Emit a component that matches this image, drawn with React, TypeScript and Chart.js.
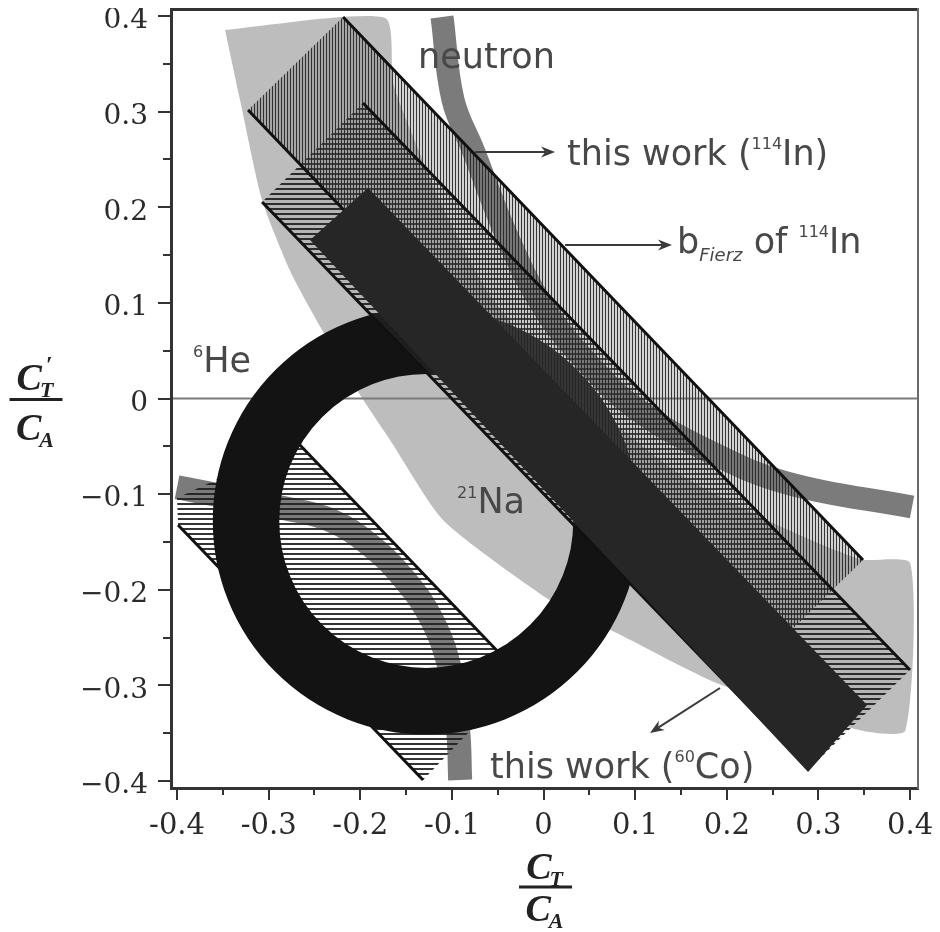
import React, { useEffect, useRef } from 'react';
import { Chart, registerables } from 'chart.js';

Chart.register(...registerables);

// ---------- axes ----------
const xRange = [-0.4066, 0.4087];
const yRange = [-0.4073, 0.4073];
const majorTicks = [-0.4, -0.3, -0.2, -0.1, 0, 0.1, 0.2, 0.3, 0.4];
const minorTicks = [-0.35, -0.25, -0.15, -0.05, 0.05, 0.15, 0.25, 0.35];
const xTickLabels = ['-0.4', '-0.3', '-0.2', '-0.1', '0', '0.1', '0.2', '0.3', '0.4'];
const yTickLabels = ['\u22120.4', '\u22120.3', '\u22120.2', '\u22120.1', '0', '0.1', '0.2', '0.3', '0.4'];

// ---------- regions (C_T/C_A , C'_T/C_A) ----------
// 21Na band: outer-left boundary (top -> right), then inner-right boundary (right -> top)
const na21Lower = [
  [-0.3476, 0.3854], [-0.3312, 0.3121], [-0.3072, 0.2075], [-0.2734, 0.127],
  [-0.2057, 0.0119], [-0.1675, -0.0435], [-0.1096, -0.1272], [0.0072, -0.2109],
  [0.0803, -0.2454], [0.1895, -0.2977], [0.3456, -0.3469], [0.395, -0.3469],
];
const na21Upper = [
  [0.4002, -0.1722], [0.345, -0.168], [0.25, -0.13], [0.15, -0.08], [0.07, -0.02],
  [0.0, 0.04], [-0.06, 0.11], [-0.11, 0.2], [-0.145, 0.28], [-0.1642, 0.3299], [-0.1729, 0.3979],
];
// neutron band centre lines (two branches)
const neutronUpper = [
  [-0.1108, 0.399], [-0.0988, 0.3122], [-0.0769, 0.2599], [-0.04, 0.17], [0.0, 0.095],
  [0.05, 0.035], [0.1, -0.01], [0.18, -0.055], [0.2658, -0.0884], [0.4022, -0.1135],
];
const neutronLower = [
  [-0.4, -0.0927], [-0.2843, -0.1146], [-0.233, -0.127], [-0.1893, -0.1533], [-0.1511, -0.19],
  [-0.1216, -0.2318], [-0.102, -0.284], [-0.0932, -0.3469], [-0.091, -0.399],
];
// 6He ring
const he6Center = [-0.128, -0.128];
const he6Radii = [0.157, 0.228];
// 114In, this work (parallelogram corners)
const in114ThisWork = [[-0.2188, 0.399], [0.3487, -0.1689], [0.245, -0.2661], [-0.3225, 0.3017]];
// b_Fierz of 114In
const in114Fierz = [[-0.197, 0.309], [0.4, -0.2839], [0.2898, -0.3875], [-0.3072, 0.2055]];
// lower-left hatched band
const lowerBand = [[-0.4, -0.104], [-0.269, -0.0455], [-0.0235, -0.291], [-0.1315, -0.399], [-0.3989, -0.1323]];
// 60Co, this work
const co60ThisWork = [[-0.1915, 0.2201], [0.3531, -0.3205], [0.2887, -0.3906], [-0.2548, 0.1658]];
// zero line
const zeroLine = [[-0.4066, 0], [0.4087, 0]];

// ---------- annotations ----------
const arrows = [
  { from: [-0.0748, 0.2578], to: [0.0126, 0.2578] },
  { from: [0.0235, 0.1605], to: [0.1402, 0.1605] },
  { from: [0.1926, -0.3027], to: [0.1162, -0.3498] },
];
type Run = { t: string; size: number; dy?: number; italic?: boolean };
const textLabels: { at: number[]; runs: Run[] }[] = [
  { at: [-0.137, 0.3456], runs: [{ t: 'neutron', size: 35 }] },
  { at: [0.0257, 0.2442], runs: [{ t: 'this work (', size: 35 }, { t: '114', size: 16, dy: -16 }, { t: 'In)', size: 35 }] },
  { at: [0.1457, 0.1522], runs: [{ t: 'b', size: 35 }, { t: 'Fierz', size: 18, dy: 8, italic: true }, { t: ' of ', size: 35 }, { t: '114', size: 16, dy: -16 }, { t: 'In', size: 35 }] },
  { at: [-0.3825, 0.0277], runs: [{ t: '6', size: 16, dy: -15 }, { t: 'He', size: 35 }] },
  { at: [-0.0944, -0.1197], runs: [{ t: '21', size: 16, dy: -15 }, { t: 'Na', size: 35 }] },
  { at: [-0.0584, -0.3969], runs: [{ t: 'this work (', size: 35 }, { t: '60', size: 16, dy: -16 }, { t: 'Co)', size: 35 }] },
];

const P = (a: number[][]) => a.map(([x, y]) => ({ x, y }));
const closed = (a: number[][]) => P([...a, a[0]]);

const SANS = '"DejaVu Sans", sans-serif';
const SERIF = '"Liberation Serif", "DejaVu Serif", serif';

function drawRuns(ctx: CanvasRenderingContext2D, x: number, y: number, runs: Run[]) {
  let cx = x;
  for (const r of runs) {
    ctx.font = `${r.italic ? 'italic ' : ''}${r.size}px ${SANS}`;
    ctx.fillText(r.t, cx, y + (r.dy || 0));
    cx += ctx.measureText(r.t).width;
  }
}

function drawFraction(ctx: CanvasRenderingContext2D, cx: number, barY: number, barW: number, numBase: number, denBase: number, prime: boolean) {
  ctx.fillStyle = '#222';
  ctx.fillRect(cx - barW / 2, barY - 1.5, barW, 3);
  const big = `italic bold 38px ${SERIF}`;
  const small = `italic bold 22px ${SERIF}`;
  const part = (base: number, sub: string, withPrime: boolean) => {
    ctx.font = big;
    const wC = ctx.measureText('C').width;
    ctx.font = small;
    const wS = ctx.measureText(sub).width;
    const x0 = cx - (wC + wS) / 2;
    ctx.font = big;
    ctx.fillText('C', x0, base);
    ctx.font = small;
    ctx.fillText(sub, x0 + wC - 2, base + 7);
    if (withPrime) {
      ctx.font = `bold 24px ${SERIF}`;
      ctx.fillText('\u2032', x0 + wC + 4, base - 18);
    }
  };
  part(numBase, 'T', prime);
  part(denBase, 'A', false);
}

const annotationPlugin = {
  id: 'annotations',
  afterDatasetsDraw(chart: any) {
    const { ctx, scales } = chart;
    const xs = scales.x, ys = scales.y;
    ctx.save();
    ctx.strokeStyle = '#3a3a3a';
    ctx.fillStyle = '#3a3a3a';
    ctx.lineWidth = 2;
    for (const a of arrows) {
      const x1 = xs.getPixelForValue(a.from[0]), y1 = ys.getPixelForValue(a.from[1]);
      const x2 = xs.getPixelForValue(a.to[0]), y2 = ys.getPixelForValue(a.to[1]);
      const ang = Math.atan2(y2 - y1, x2 - x1);
      const head = 14, hw = 5.5;
      const c = Math.cos(ang), s = Math.sin(ang);
      ctx.beginPath();
      ctx.moveTo(x1, y1);
      ctx.lineTo(x2 - head * 0.7 * c, y2 - head * 0.7 * s);
      ctx.stroke();
      ctx.beginPath();
      ctx.moveTo(x2, y2);
      ctx.lineTo(x2 - head * c + hw * s, y2 - head * s - hw * c);
      ctx.lineTo(x2 - head * 0.7 * c, y2 - head * 0.7 * s);
      ctx.lineTo(x2 - head * c - hw * s, y2 - head * s + hw * c);
      ctx.closePath();
      ctx.fill();
    }
    ctx.fillStyle = '#484848';
    ctx.textBaseline = 'alphabetic';
    ctx.textAlign = 'left';
    for (const l of textLabels) {
      drawRuns(ctx, xs.getPixelForValue(l.at[0]), ys.getPixelForValue(l.at[1]), l.runs);
    }
    ctx.restore();
  },
  afterDraw(chart: any) {
    const { ctx, scales, chartArea } = chart;
    ctx.save();
    ctx.textBaseline = 'alphabetic';
    ctx.textAlign = 'left';
    const y0 = scales.y.getPixelForValue(0);
    drawFraction(ctx, 28, y0 + 1, 53, y0 - 9, y0 + 41, true);
    const x0 = scales.x.getPixelForValue(0);
    const by = chartArea.bottom + 99;
    drawFraction(ctx, x0 + 2, by, 53, by - 8, by + 34, false);
    ctx.restore();
  },
};

export default function App() {
  const ref = useRef<HTMLCanvasElement>(null);
  useEffect(() => {
    const canvas = ref.current!;
    const ctx2d = canvas.getContext('2d')!;
    const pattern = (dir: 'v' | 'h', period: number, w: number, color: string, bg?: string) => {
      const c = document.createElement('canvas');
      c.width = period;
      c.height = period;
      const g = c.getContext('2d')!;
      if (bg) { g.fillStyle = bg; g.fillRect(0, 0, period, period); }
      g.fillStyle = color;
      if (dir === 'v') g.fillRect(0, 0, w, period);
      else g.fillRect(0, 0, period, w);
      return ctx2d.createPattern(c, 'repeat')!;
    };
    const hatchA = pattern('v', 3, 1, 'rgba(35,35,35,0.9)', 'rgba(110,110,110,0.3)');
    const hatchB = pattern('h', 5, 2, 'rgba(30,30,30,0.9)', 'rgba(120,120,120,0.12)');
    const hatchC = pattern('h', 5, 2, 'rgba(30,30,30,0.9)');

    const base = { xAxisID: 'x', yAxisID: 'y', pointRadius: 0, pointHoverRadius: 0, clip: 0 };
    const poly = (label: string, verts: number[][], bg: any, order: number, tension = 0) => ({
      ...base, label, data: closed(verts), fill: 'shape', backgroundColor: bg,
      borderColor: 'rgba(0,0,0,0)', borderWidth: 0, tension, order,
    });
    const line = (label: string, pts: number[][], color: string, width: number, order: number, tension = 0) => ({
      ...base, label, data: P(pts), fill: false, borderColor: color, borderWidth: width,
      borderCapStyle: 'butt', tension, order,
    });
    const ringMid = (he6Radii[0] + he6Radii[1]) / 2;
    const ringW = he6Radii[1] - he6Radii[0];
    const pxLen = (c: any, d: number) => {
      const s = c.chart.scales;
      const rx = Math.abs(s.x.getPixelForValue(d) - s.x.getPixelForValue(0));
      const ry = Math.abs(s.y.getPixelForValue(d) - s.y.getPixelForValue(0));
      return (rx + ry) / 2;
    };

    const datasets: any[] = [
      poly('21Na', [...na21Lower, ...na21Upper], '#bdbdbd', 100, 0.2),
      line('zero', zeroLine, '#7a7a7a', 2, 95),
      line('neutron', neutronUpper, '#7b7b7b', 23, 90, 0.4),
      line('neutron (2)', neutronLower, '#7b7b7b', 24, 90, 0.4),
      poly('lower band', lowerBand, hatchC, 80),
      line('lower band edge 1', [lowerBand[1], lowerBand[2]], '#111', 3, 79),
      line('lower band edge 2', [lowerBand[4], lowerBand[3]], '#111', 3, 79),
      {
        ...base, label: '6He', data: P([he6Center]), showLine: false, order: 70,
        pointRadius: (c: any) => pxLen(c, ringMid),
        pointBorderWidth: (c: any) => pxLen(c, ringW),
        pointBackgroundColor: 'rgba(0,0,0,0)', pointBorderColor: '#131313',
        pointHoverRadius: (c: any) => pxLen(c, ringMid),
      },
      poly('b Fierz of 114In', in114Fierz, hatchB, 60),
      poly('this work (114In)', in114ThisWork, hatchA, 59),
      line('A edge 1', [in114ThisWork[0], in114ThisWork[1]], '#111', 3, 50),
      line('A edge 2', [in114ThisWork[3], in114ThisWork[2]], '#111', 3, 50),
      line('B edge 1', [in114Fierz[0], in114Fierz[1]], '#111', 3, 50),
      line('B edge 2', [in114Fierz[3], in114Fierz[2]], '#111', 3, 50),
      poly('this work (60Co)', co60ThisWork, '#262626', 40),
    ];

    const setTicks = (vals: number[]) => (s: any) => { s.ticks = vals.map((v) => ({ value: v })); };
    const tickFont = (size: number) => ({ family: '"DejaVu Serif", serif', size });

    const chart = new Chart(canvas, {
      type: 'line',
      data: { datasets },
      plugins: [annotationPlugin],
      options: {
        animation: false,
        responsive: false,
        maintainAspectRatio: false,
        events: [],
        layout: { padding: { top: 1, right: 14, bottom: 0, left: 0 } },
        plugins: { legend: { display: false }, tooltip: { enabled: false } },
        scales: {
          x: {
            type: 'linear', position: 'bottom', min: xRange[0], max: xRange[1], weight: 1,
            afterBuildTicks: setTicks(majorTicks),
            afterFit: (s: any) => { s.height = 144; s.paddingLeft = 0; s.paddingRight = 0; },
            ticks: {
              callback: (_v: any, i: number) => xTickLabels[i], autoSkip: false, maxRotation: 0,
              font: tickFont(29), color: '#2a2a2a', padding: 9,
            },
            grid: { drawOnChartArea: false, tickLength: 12, tickColor: '#333', lineWidth: 2 },
            border: { display: true, color: '#333', width: 3, z: 1 },
          },
          y: {
            type: 'linear', position: 'left', min: yRange[0], max: yRange[1], weight: 1,
            afterBuildTicks: setTicks(majorTicks),
            afterFit: (s: any) => { s.width = 163; s.paddingTop = 0; s.paddingBottom = 0; },
            ticks: {
              callback: (_v: any, i: number) => yTickLabels[i], autoSkip: false,
              font: tickFont(28), color: '#2a2a2a', padding: 10, labelOffset: 5,
            },
            grid: { drawOnChartArea: false, tickLength: 13, tickColor: '#333', lineWidth: 2 },
            border: { display: true, color: '#333', width: 3, z: 1 },
          },
          xm: {
            type: 'linear', position: 'bottom', min: xRange[0], max: xRange[1], weight: 0,
            afterBuildTicks: setTicks(minorTicks),
            afterFit: (s: any) => { s.height = 0; s.paddingLeft = 0; s.paddingRight = 0; },
            ticks: { display: false },
            grid: { drawOnChartArea: false, tickLength: 7, tickColor: '#333', lineWidth: 2 },
            border: { display: false },
          },
          ym: {
            type: 'linear', position: 'left', min: yRange[0], max: yRange[1], weight: 0,
            afterBuildTicks: setTicks(minorTicks),
            afterFit: (s: any) => { s.width = 0; s.paddingTop = 0; s.paddingBottom = 0; },
            ticks: { display: false },
            grid: { drawOnChartArea: false, tickLength: 8, tickColor: '#333', lineWidth: 2 },
            border: { display: false },
          },
          xt: {
            type: 'linear', position: 'top', min: xRange[0], max: xRange[1],
            afterFit: (s: any) => { s.height = 0; s.paddingLeft = 0; s.paddingRight = 0; },
            ticks: { display: false },
            grid: { display: false, drawOnChartArea: false, drawTicks: false },
            border: { display: true, color: '#333', width: 3, z: 1 },
          },
          yr: {
            type: 'linear', position: 'right', min: yRange[0], max: yRange[1],
            afterFit: (s: any) => { s.width = 0; s.paddingTop = 0; s.paddingBottom = 0; },
            ticks: { display: false },
            grid: { display: false, drawOnChartArea: false, drawTicks: false },
            border: { display: true, color: '#6a6a6a', width: 2, z: 1 },
          },
        },
      } as any,
    } as any);
    return () => chart.destroy();
  }, []);
  return (
    <div style={{ width: 924, height: 924 }}>
      <canvas ref={ref} width={924} height={924} style={{ display: 'block' }} />
    </div>
  );
}
